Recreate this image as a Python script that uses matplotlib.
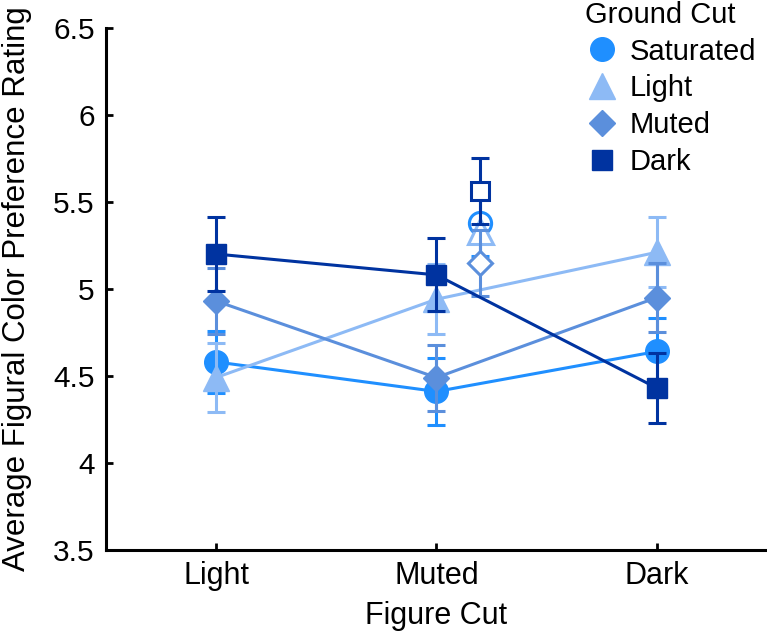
import matplotlib
matplotlib.use('Agg')
import matplotlib.pyplot as plt
from matplotlib.lines import Line2D

plt.rcParams['font.family'] = ['Liberation Sans', 'DejaVu Sans']

figure_cuts = ['Light', 'Muted', 'Dark']
ground_cuts = ['Saturated', 'Light', 'Muted', 'Dark']

# mean ratings per ground cut, at each figure cut
saturated = [4.58, 4.41, 4.64]
light = [4.49, 4.94, 5.21]
muted = [4.93, 4.49, 4.95]
dark = [5.20, 5.08, 4.43]
saturated_err = [0.18, 0.19, 0.19]
light_err = [0.20, 0.20, 0.20]
muted_err = [0.19, 0.19, 0.20]
dark_err = [0.21, 0.21, 0.20]

# saturated figure (open markers)
open_x = 2.2
open_vals = [5.38, 5.33, 5.15, 5.56]
open_err = [0.19, 0.19, 0.19, 0.19]

colors = ['#1f8fff', '#8dbaf5', '#5b8fdc', '#0033a0']
markers = ['o', '^', 'D', 's']
msizes = [17, 19, 13, 14]

fig = plt.figure(figsize=(7.67, 6.32), dpi=100)
ax = fig.add_axes([0.138, 0.130, 0.862, 0.826])

x = [1, 2, 3]
series = [saturated, light, muted, dark]
errs = [saturated_err, light_err, muted_err, dark_err]

for i in range(4):
    ax.errorbar(x, series[i], yerr=errs[i], color=colors[i], lw=2.2,
                elinewidth=2.2, capsize=6.5, capthick=2.2,
                marker=markers[i], ms=msizes[i], mec=colors[i], zorder=2 + i)

for i in range(4):
    ax.errorbar([open_x], [open_vals[i]], yerr=[open_err[i]], color=colors[i],
                elinewidth=2.2, capsize=6.5, capthick=2.2, marker=markers[i],
                ms=msizes[i] - 1, mfc='white', mec=colors[i], mew=2.2,
                zorder=2 + i)

ax.set_xlim(0.5, 3.5)
ax.set_ylim(3.5, 6.5)
ax.set_xticks(x)
ax.set_xticklabels(figure_cuts)
ax.set_yticks([3.5, 4, 4.5, 5, 5.5, 6, 6.5])
ax.set_yticklabels(['3.5', '4', '4.5', '5', '5.5', '6', '6.5'])
ax.tick_params(direction='in', width=2, length=5)
ax.tick_params(axis='x', labelsize=22, pad=8)
ax.tick_params(axis='y', labelsize=21.5, pad=8)
ax.spines['top'].set_visible(False)
ax.spines['right'].set_visible(False)
ax.spines['left'].set_linewidth(2.2)
ax.spines['bottom'].set_linewidth(2.2)
ax.set_xlabel('Figure Cut', fontsize=22, labelpad=7)
ax.set_ylabel('Average Figural Color Preference Rating', fontsize=22.5)
ax.yaxis.set_label_coords(-0.112, 0.5)

handles = [Line2D([], [], ls='none', marker=markers[i], ms=msizes[i],
                  color=colors[i]) for i in range(4)]
leg = ax.legend(handles, ground_cuts, title='Ground Cut', loc='upper right',
                frameon=False, fontsize=21, title_fontsize=21,
                handlelength=1.2, handletextpad=0.33, labelspacing=0.3,
                borderaxespad=0, alignment='left',
                bbox_to_anchor=(1.0006, 1.074))

fig.savefig('out.png', dpi=100)
